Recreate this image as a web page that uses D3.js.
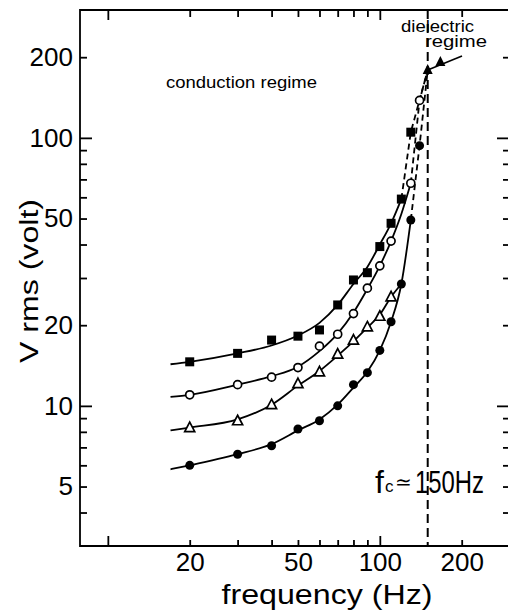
<!DOCTYPE html>
<html>
<head>
<meta charset="utf-8">
<script src="https://cdnjs.cloudflare.com/ajax/libs/d3/7.8.5/d3.min.js"></script>
<style>
  body { margin: 0; background: #fff; }
  svg { display: block; font-family: "Liberation Sans", Arial, sans-serif; }
</style>
</head>
<body>
<div id="chart"></div>
<script>
// measured points (frequency in Hz, voltage in V rms)
var squareF = [20, 30, 40, 50, 60, 70, 80, 90, 100, 110, 120, 130];
var squareV = [14.6, 15.7, 17.6, 18.2, 19.2, 23.8, 29.5, 31.4, 39.3, 48.0, 59.1, 105];
var openF = [20, 30, 40, 50, 60, 70, 80, 90, 100, 110, 130, 140];
var openV = [11.0, 12.0, 12.8, 13.9, 16.7, 18.5, 22.1, 27.5, 33.3, 41.2, 67.7, 138];
var triF = [20, 30, 40, 50, 60, 70, 80, 90, 100, 110];
var triV = [8.3, 8.8, 10.1, 12.1, 13.4, 15.6, 17.6, 19.7, 21.6, 25.5];
var dotF = [20, 30, 40, 50, 60, 70, 80, 90, 100, 110, 120, 130, 140];
var dotV = [6.0, 6.6, 7.1, 8.2, 8.8, 10.0, 12.0, 13.3, 16.1, 20.6, 28.5, 49.4, 93.5];
var dielF = [150, 167];
var dielV = [179, 192];

// hand drawn fit curves (solid part)
var fitSquareF = [17, 20, 30, 40, 50, 60, 70, 80, 90, 100, 110, 120];
var fitSquareV = [14.3, 14.6, 15.7, 16.8, 18.3, 20.4, 23.8, 28.5, 33.0, 40, 48, 59.1];
var fitOpenF = [17, 20, 30, 40, 50, 60, 70, 80, 90, 100, 110, 120, 130];
var fitOpenV = [10.8, 11.0, 12.0, 12.9, 14.0, 16.0, 18.6, 22.3, 27.3, 33.3, 41.2, 52, 67.7];
var fitTriF = [17, 20, 30, 40, 50, 60, 70, 80, 90, 100, 110, 120];
var fitTriV = [8.1, 8.3, 8.9, 10.1, 11.9, 13.5, 15.4, 17.4, 19.6, 21.9, 25.5, 28.5];
var fitDotF = [17, 20, 30, 40, 50, 60, 70, 80, 90, 100, 110, 120, 130];
var fitDotV = [5.8, 6.0, 6.6, 7.2, 8.1, 8.9, 10.1, 11.7, 13.4, 16.1, 20.6, 28.5, 49.4];

// dashed extrapolations to the crossover
var dashSquareF = [120, 130, 150];
var dashSquareV = [59.1, 105, 179];
var dashOpenF = [130, 140, 150];
var dashOpenV = [67.7, 138, 179];
var dashDotF = [130, 140, 150];
var dashDotV = [49.4, 93.5, 179];

var fc = 150;

// ticks
var xMinor = [20, 30, 40, 50, 60, 70, 80, 90, 200];
var xMajor = [10, 100];
var xLabels = [20, 50, 100, 200];
var yMinor = [4, 5, 6, 7, 8, 9, 20, 30, 40, 50, 60, 70, 80, 90, 200];
var yMajor = [10, 100];
var yLabels = [5, 10, 20, 50, 100, 200];

var W = 508, H = 612;
var pLeft = 80, pRight = 509, pTop = 10, pBottom = 546;

var x = d3.scaleLog().domain([7.9, 296]).range([pLeft, 508]);
var y = d3.scaleLog().domain([3, 300]).range([pBottom, pTop]);

var svg = d3.select("#chart").append("svg")
    .attr("width", W)
    .attr("height", H);

function zip(a, b) {
  return a.map(function(d, i) { return [d, b[i]]; });
}

// frame
svg.append("path")
   .attr("d", "M" + pRight + "," + pTop + "H" + pLeft + "V" + pBottom + "H" + pRight)
   .attr("fill", "none")
   .attr("stroke", "#000")
   .attr("stroke-width", 1.8);

function tickAxis(axis, values, size, transform) {
  var g = svg.append("g")
     .attr("transform", transform)
     .call(axis.tickValues(values).tickSize(size).tickFormat(""));
  g.select(".domain").remove();
  g.selectAll("line").attr("stroke", "#000").attr("stroke-width", 1.8);
}

// inward ticks on all four sides
tickAxis(d3.axisBottom(x), xMinor, -6, "translate(0," + pBottom + ")");
tickAxis(d3.axisBottom(x), xMajor, -10, "translate(0," + pBottom + ")");
tickAxis(d3.axisTop(x), xMinor, -7, "translate(0," + pTop + ")");
tickAxis(d3.axisTop(x), xMajor, -10, "translate(0," + pTop + ")");
tickAxis(d3.axisLeft(y), yMinor, -7, "translate(" + pLeft + ",0)");
tickAxis(d3.axisLeft(y), yMajor, -12, "translate(" + pLeft + ",0)");
tickAxis(d3.axisRight(y), yMinor, -6, "translate(" + pRight + ",0)");
tickAxis(d3.axisRight(y), yMajor, -12, "translate(" + pRight + ",0)");

// tick labels
var xl = svg.append("g")
    .attr("transform", "translate(0," + pBottom + ")")
    .call(d3.axisBottom(x).tickValues(xLabels).tickSize(0).tickPadding(7).tickFormat(d3.format("d")));
xl.select(".domain").remove();
xl.selectAll("text").attr("font-size", 26).attr("fill", "#000");
xl.attr("font-family", null).attr("font-size", null);

var yl = svg.append("g")
    .attr("transform", "translate(" + pLeft + ",0)")
    .call(d3.axisLeft(y).tickValues(yLabels).tickSize(0).tickPadding(7).tickFormat(d3.format("d")));
yl.select(".domain").remove();
yl.selectAll("text").attr("font-size", 26).attr("fill", "#000");
yl.attr("font-family", null).attr("font-size", null);

// axis titles
svg.append("text")
   .attr("x", 327).attr("y", 604)
   .attr("text-anchor", "middle")
   .attr("font-size", 27)
   .attr("textLength", 211)
   .attr("lengthAdjust", "spacingAndGlyphs")
   .text("frequency (Hz)");

svg.append("text")
   .attr("transform", "translate(38,281) rotate(-90)")
   .attr("text-anchor", "middle")
   .attr("font-size", 25)
   .attr("textLength", 164)
   .attr("lengthAdjust", "spacingAndGlyphs")
   .text("V rms (volt)");

// critical frequency
svg.append("line")
   .attr("x1", x(fc)).attr("x2", x(fc))
   .attr("y1", pTop).attr("y2", pBottom)
   .attr("stroke", "#000")
   .attr("stroke-width", 2)
   .attr("stroke-dasharray", "9,5");

var line = d3.line()
    .x(function(d) { return x(d[0]); })
    .y(function(d) { return y(d[1]); })
    .curve(d3.curveMonotoneX);

[[fitSquareF, fitSquareV], [fitOpenF, fitOpenV], [fitTriF, fitTriV], [fitDotF, fitDotV]].forEach(function(c) {
  svg.append("path")
     .datum(zip(c[0], c[1]))
     .attr("fill", "none")
     .attr("stroke", "#000")
     .attr("stroke-width", 1.8)
     .attr("d", line);
});

[[dashSquareF, dashSquareV], [dashOpenF, dashOpenV], [dashDotF, dashDotV]].forEach(function(c) {
  svg.append("path")
     .datum(zip(c[0], c[1]))
     .attr("fill", "none")
     .attr("stroke", "#000")
     .attr("stroke-width", 1.8)
     .attr("stroke-dasharray", "6,4")
     .attr("d", d3.line().x(function(d) { return x(d[0]); }).y(function(d) { return y(d[1]); }));
});

// markers
svg.selectAll(".sq").data(zip(squareF, squareV)).enter().append("rect")
   .attr("x", function(d) { return x(d[0]) - 4.5; })
   .attr("y", function(d) { return y(d[1]) - 4.5; })
   .attr("width", 9).attr("height", 9)
   .attr("fill", "#000");

svg.selectAll(".oc").data(zip(openF, openV)).enter().append("circle")
   .attr("cx", function(d) { return x(d[0]); })
   .attr("cy", function(d) { return y(d[1]); })
   .attr("r", 4)
   .attr("fill", "#fff")
   .attr("stroke", "#000")
   .attr("stroke-width", 1.7);

svg.selectAll(".tr").data(zip(triF, triV)).enter().append("path")
   .attr("transform", function(d) { return "translate(" + x(d[0]) + "," + y(d[1]) + ")"; })
   .attr("d", "M0,-5.5L5,4L-5,4Z")
   .attr("fill", "#fff")
   .attr("stroke", "#000")
   .attr("stroke-width", 1.7);

svg.selectAll(".dt").data(zip(dotF, dotV)).enter().append("circle")
   .attr("cx", function(d) { return x(d[0]); })
   .attr("cy", function(d) { return y(d[1]); })
   .attr("r", 4.5)
   .attr("fill", "#000");

// dielectric regime
svg.append("line")
   .attr("x1", 462).attr("y1", 56)
   .attr("x2", x(dielF[0])).attr("y2", y(dielV[0]))
   .attr("stroke", "#000")
   .attr("stroke-width", 1.6);

svg.selectAll(".dl").data(zip(dielF, dielV)).enter().append("path")
   .attr("transform", function(d) { return "translate(" + x(d[0]) + "," + y(d[1]) + ")"; })
   .attr("d", "M0,-6L5,4L-5,4Z")
   .attr("fill", "#000");

// annotations
svg.append("text")
   .attr("x", 166).attr("y", 88)
   .attr("font-size", 17)
   .attr("textLength", 151)
   .attr("lengthAdjust", "spacingAndGlyphs")
   .text("conduction  regime");

svg.append("text")
   .attr("x", 401).attr("y", 32)
   .attr("font-size", 16)
   .attr("textLength", 73)
   .attr("lengthAdjust", "spacingAndGlyphs")
   .text("dielectric");

svg.append("text")
   .attr("x", 425).attr("y", 47)
   .attr("font-size", 16)
   .attr("textLength", 62)
   .attr("lengthAdjust", "spacingAndGlyphs")
   .text("regime");

svg.append("text").attr("x", 375).attr("y", 493).attr("font-size", 32).text("f");
svg.append("text").attr("x", 385).attr("y", 492).attr("font-size", 17).text("c");
svg.append("text").attr("x", 395).attr("y", 489).attr("font-size", 20).text("\u2243");
svg.append("text")
   .attr("x", 415).attr("y", 493)
   .attr("font-size", 32)
   .attr("textLength", 69)
   .attr("lengthAdjust", "spacingAndGlyphs")
   .text("150Hz");
</script>
</body>
</html>
